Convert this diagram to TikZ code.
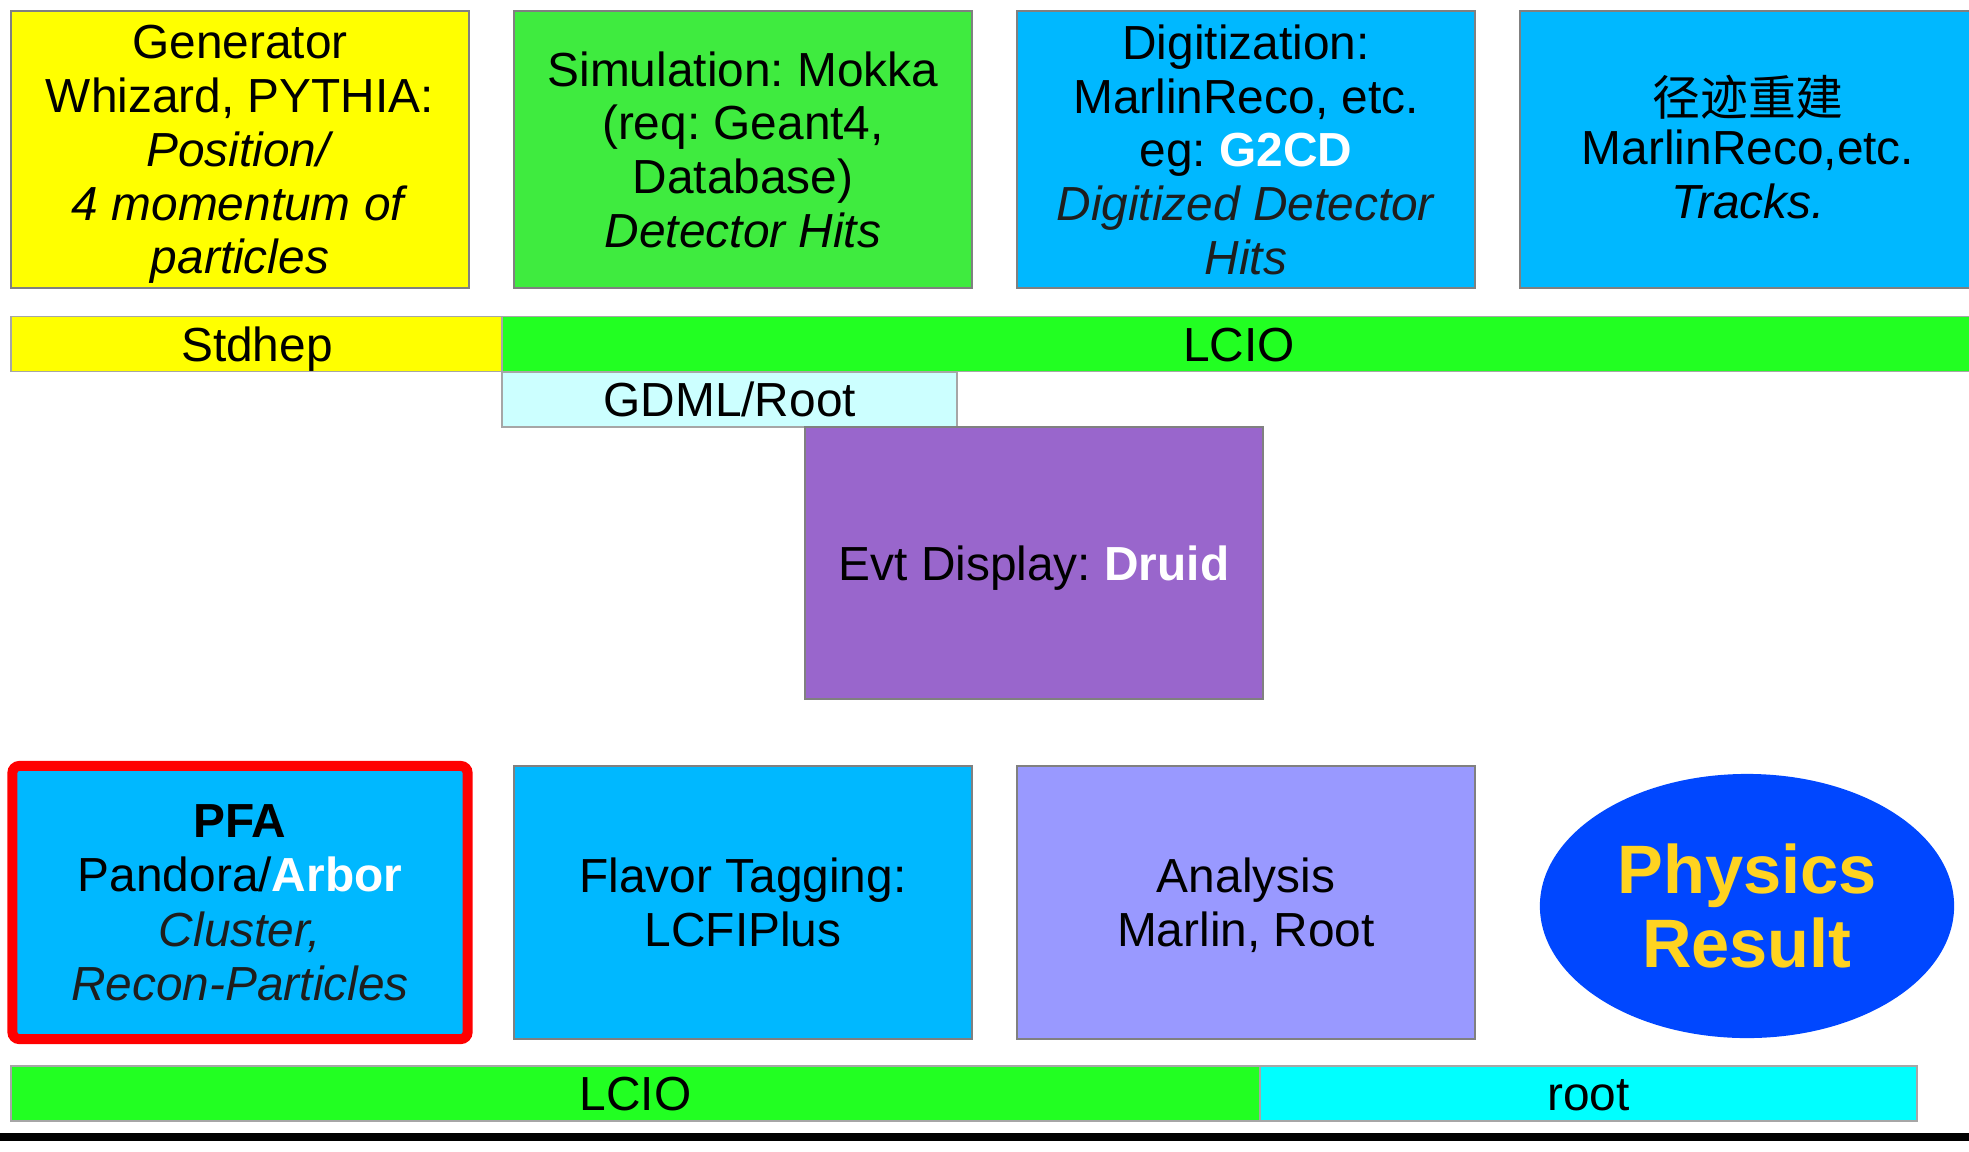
\documentclass[tikz,border=0pt]{standalone}
\usepackage{fontspec}
\setmainfont{Liberation Sans}
\newfontfamily\cjk{Noto Sans CJK SC}
\usetikzlibrary{shapes.geometric}
\frenchspacing

\definecolor{genyellow}{HTML}{FFFF00}
\definecolor{simgreen}{HTML}{3FEB3F}
\definecolor{lciogreen}{HTML}{22FF22}
\definecolor{digiblue}{HTML}{00B8FF}
\definecolor{gdmlcyan}{HTML}{CCFFFF}
\definecolor{evtpurple}{HTML}{9966CC}
\definecolor{anablue}{HTML}{9999FF}
\definecolor{physblue}{HTML}{0047FF}
\definecolor{physyellow}{HTML}{FFD320}
\definecolor{rootcyan}{HTML}{00FFFF}
\definecolor{softblack}{HTML}{1E1E1E}

\tikzset{
  stage/.style={draw=gray, line width=0.5pt, inner sep=0pt, align=center,
    minimum width=4.57cm, minimum height=2.73cm, text depth=0pt,
    font=\fontsize{13.6}{15.3}\selectfont},
  format/.style={draw=gray!70, line width=0.5pt, inner sep=0pt,
    minimum height=0.55cm, text height=9.8pt, text depth=0pt,
    font=\fontsize{13.6}{15.3}\selectfont},
}

\begin{document}
\begin{tikzpicture}[x=0.01cm,y=-0.01cm]
        \useasboundingbox (0,0) rectangle (1969,1151);

        % the processing stages, top row
        \node[stage, fill=genyellow, minimum height=2.77cm] (gen) at (240,149.5)
            {Generator\\Whizard, PYTHIA:\\\textit{Position/}\\\textit{4 momentum of}\\\textit{particles}};
        \node[stage, fill=simgreen, minimum height=2.77cm] (sim) at (743,149.5)
            {Simulation: Mokka\\(req: Geant4,\\Database)\\\textit{Detector Hits}};
        \node[stage, fill=digiblue, minimum height=2.77cm] (digi) at (1246,149.5)
            {Digitization:\\MarlinReco, etc.\\eg: \textcolor{white}{\textbf{G2CD}}\\\textcolor{softblack}{\textit{Digitized Detector}}\\\textcolor{softblack}{\textit{Hits}}};
        \node[stage, fill=digiblue, minimum height=2.77cm, minimum width=4.56cm,
              text depth=1.5pt] (trk) at (1748,149.5)
            {{\cjk 径迹重建}\\[-1.2pt]MarlinReco,etc.\\\textit{Tracks.}};

        % the data formats
        \node[format, fill=genyellow, minimum width=4.91cm] (stdhep) at (257,344) {Stdhep};
        \node[format, fill=lciogreen, minimum width=14.735cm] (lcio) at (1239,344) {LCIO};
        \node[format, fill=gdmlcyan, minimum width=4.545cm] (gdml) at (729.75,399.5) {GDML/Root};

        % the event display
        \node[stage, fill=evtpurple, minimum width=4.58cm, minimum height=2.72cm] (evt) at (1034,563)
            {Evt Display: \textcolor{white}{\textbf{Druid}}};

        % bottom row
        \node[stage, fill=digiblue, draw=red, line width=0.1cm, rounded corners=2pt,
              minimum width=4.55cm, font=\fontsize{13.6}{15.5}\selectfont] (pfa) at (240,902.5)
            {\textbf{PFA}\\Pandora/\textcolor{white}{\textbf{Arbor}}\\\textcolor{softblack}{\textit{Cluster,}}\\\textcolor{softblack}{\textit{Recon-Particles}}};
        \node[stage, fill=digiblue, minimum width=4.58cm] (flav) at (743,902.5)
            {Flavor Tagging:\\LCFIPlus};
        \node[stage, fill=anablue] (ana) at (1246,902.5)
            {Analysis\\Marlin, Root};
        \node[ellipse, fill=physblue, inner sep=0pt, align=center,
              minimum width=4.14cm, minimum height=2.64cm,
              font=\fontsize{19.5}{21.3}\selectfont\bfseries, text=physyellow] (phys) at (1747,906)
            {Physics\\Result};

        \node[format, fill=lciogreen, minimum width=12.49cm] (lciob) at (635.5,1093.5) {LCIO};
        \node[format, fill=rootcyan, minimum width=6.57cm] (root) at (1588.5,1093.5) {root};

        % the rule under everything
        \fill[black] (0,1133) rectangle (1969,1141);

    \end{tikzpicture}
\end{document}
